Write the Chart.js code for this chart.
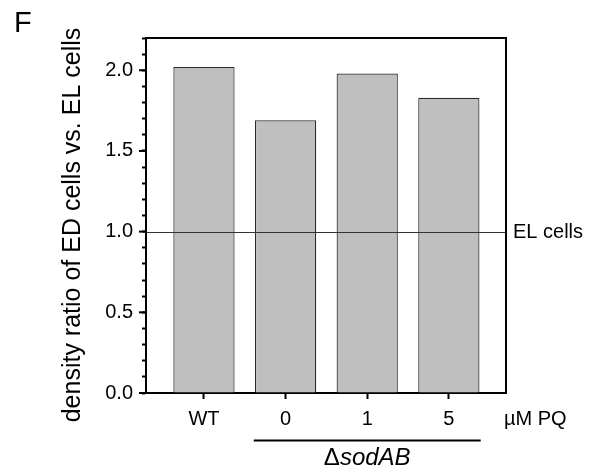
<!DOCTYPE html>
<html>
<head>
<meta charset="utf-8">
<title>Density ratio</title>
<script src="https://cdn.jsdelivr.net/npm/chart.js@4/dist/chart.umd.min.js"></script>
<style>
    html, body { margin: 0; padding: 0; background: #ffffff; }
    canvas { display: block; }
</style>
</head>
<body>
<canvas id="densityChart" width="602" height="474"></canvas>
<script>
// Chart data
const categories = ["WT", "0", "1", "5"];
const ratioValues = [2.02, 1.69, 1.98, 1.83];
const yTickLabels = ["0.0", "0.5", "1.0", "1.5", "2.0"];
const referenceLevel = 1.0;

const fontFamily = "'Liberation Sans', Arial, Helvetica, sans-serif";

// Extra drawing: frame, reference line, labels
const annotationPlugin = {
    id: "annotations",
    afterDatasetsDraw(chart) {
        const ctx = chart.ctx;
        const area = chart.chartArea;
        const x = chart.scales.x;
        const y = chart.scales.y;

        ctx.save();

        // Reference line at EL cells level
        const yRef = Math.round(y.getPixelForValue(referenceLevel)) + 0.5;
        ctx.strokeStyle = "#333333";
        ctx.lineWidth = 1.2;
        ctx.beginPath();
        ctx.moveTo(area.left, yRef);
        ctx.lineTo(area.right, yRef);
        ctx.stroke();

        // Top and right frame
        ctx.strokeStyle = "#000000";
        ctx.lineWidth = 2;
        ctx.beginPath();
        ctx.moveTo(area.left, area.top);
        ctx.lineTo(area.right, area.top);
        ctx.lineTo(area.right, area.bottom);
        ctx.stroke();

        // Longer marks for the labelled y ticks
        ctx.lineWidth = 2;
        yTickLabels.forEach((label, i) => {
            const py = y.getPixelForValue(i * 0.5);
            ctx.beginPath();
            ctx.moveTo(area.left - 7, py);
            ctx.lineTo(area.left, py);
            ctx.stroke();
        });

        ctx.fillStyle = "#000000";
        ctx.font = "20px " + fontFamily;
        ctx.textAlign = "left";
        ctx.textBaseline = "alphabetic";
        ctx.fillText("EL cells", area.right + 7, yRef + 5);
        ctx.fillText("\u00b5M PQ", area.right - 2, 425);

        // Mutant group bracket
        const x0 = x.getPixelForValue(0.61);
        const x1 = x.getPixelForValue(3.39);
        ctx.lineWidth = 2;
        ctx.beginPath();
        ctx.moveTo(x0, 440.5);
        ctx.lineTo(x1, 440.5);
        ctx.stroke();

        const mid = (x.getPixelForValue(1) + x.getPixelForValue(3)) / 2;
        ctx.font = "24px " + fontFamily;
        const deltaW = ctx.measureText("\u0394").width;
        ctx.font = "italic 24px " + fontFamily;
        const restW = ctx.measureText("sodAB").width;
        const startX = mid - (deltaW + restW) / 2;
        ctx.font = "24px " + fontFamily;
        ctx.fillText("\u0394", startX, 465);
        ctx.font = "italic 24px " + fontFamily;
        ctx.fillText("sodAB", startX + deltaW, 465);

        // Panel letter
        ctx.font = "29px " + fontFamily;
        ctx.fillText("F", 14, 32);

        // Y axis title
        ctx.translate(80, 225);
        ctx.rotate(-Math.PI / 2);
        ctx.font = "25px " + fontFamily;
        ctx.textAlign = "center";
        ctx.fillText("density ratio of ED cells vs. EL cells", 0, 0);

        ctx.restore();
    }
};

const barData = ratioValues.map((v, i) => ({ x: i, y: v }));

const densityChart = new Chart(document.getElementById("densityChart").getContext("2d"), {
    type: "bar",
    data: {
        datasets: [{
            data: barData,
            backgroundColor: "#bfbfbf",
            borderColor: "#2a2a2a",
            borderWidth: 1.2,
            barPercentage: 0.75,
            categoryPercentage: 1.0
        }]
    },
    options: {
        responsive: false,
        animation: false,
        devicePixelRatio: 1,
        layout: {
            padding: { top: 38, right: 96, left: 0, bottom: 0 }
        },
        scales: {
            x: {
                type: "linear",
                min: -0.71,
                max: 3.7,
                offset: false,
                afterBuildTicks: scale => {
                    scale.ticks = categories.map((c, i) => ({ value: i }));
                },
                afterFit: scale => { scale.height = 81; },
                ticks: {
                    color: "#000000",
                    font: { family: fontFamily, size: 20 },
                    padding: 8,
                    maxRotation: 0,
                    autoSkip: false,
                    callback: value => categories[value]
                },
                grid: {
                    offset: false,
                    drawOnChartArea: false,
                    drawTicks: true,
                    tickLength: 6,
                    tickColor: "#000000",
                    tickWidth: 2
                },
                border: { color: "#000000", width: 2 }
            },
            y: {
                min: 0,
                max: 2.2,
                afterFit: scale => { scale.width = 146; },
                ticks: {
                    stepSize: 0.1,
                    autoSkip: false,
                    color: "#000000",
                    font: { family: fontFamily, size: 20 },
                    padding: 9,
                    callback: value => {
                        const tenths = Math.round(value * 10);
                        return tenths % 5 === 0 ? yTickLabels[tenths / 5] : "";
                    }
                },
                grid: {
                    drawOnChartArea: false,
                    drawTicks: true,
                    tickLength: 4,
                    tickColor: "#000000",
                    tickWidth: 2
                },
                border: { color: "#000000", width: 2 }
            }
        },
        plugins: {
            legend: { display: false },
            tooltip: { enabled: false }
        }
    },
    plugins: [annotationPlugin]
});
</script>
</body>
</html>
